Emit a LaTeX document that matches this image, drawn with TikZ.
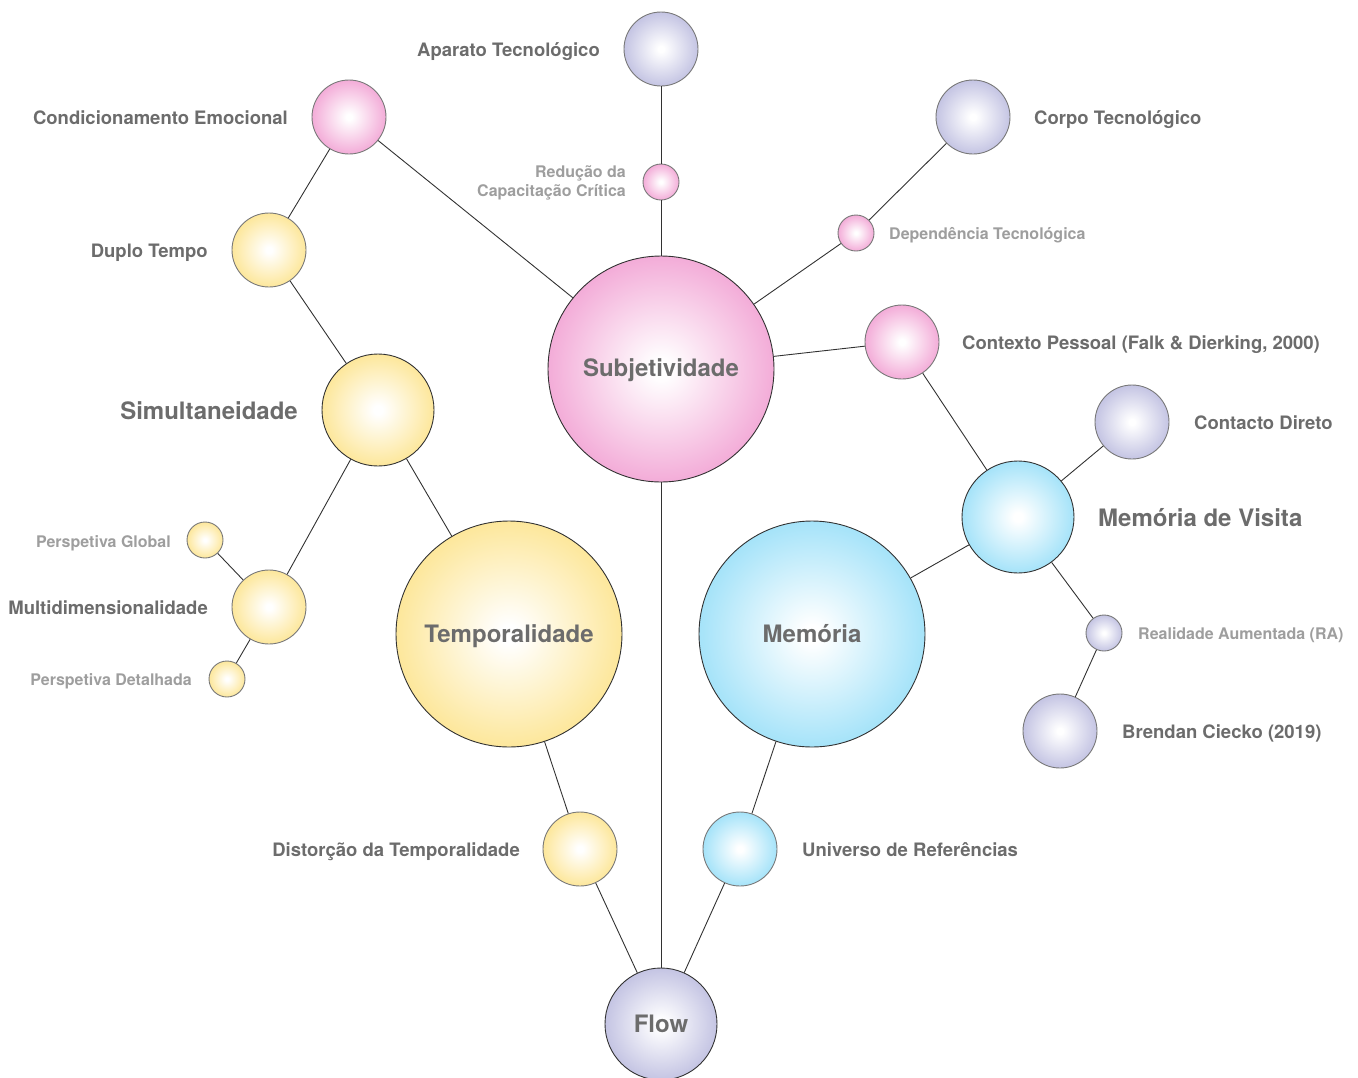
\documentclass[tikz,border=0pt]{standalone}
\usepackage{fontspec}
\setmainfont{TeX Gyre Heros}
\definecolor{pinkC}{RGB}{243,172,216}
\definecolor{yellowC}{RGB}{253,231,155}
\definecolor{cyanC}{RGB}{165,227,249}
\definecolor{lavC}{RGB}{196,196,227}
\definecolor{txtD}{RGB}{108,108,108}
\definecolor{txtL}{RGB}{158,158,158}
\definecolor{edgeD}{RGB}{50,50,50}
\definecolor{edgeG}{RGB}{120,120,120}
\pgfdeclareradialshading{ballpink}{\pgfpoint{0bp}{0bp}}{color(0bp)=(white); color(2bp)=(white); color(25bp)=(pinkC); color(50bp)=(pinkC)}
\pgfdeclareradialshading{ballyel}{\pgfpoint{0bp}{0bp}}{color(0bp)=(white); color(2bp)=(white); color(25bp)=(yellowC); color(50bp)=(yellowC)}
\pgfdeclareradialshading{ballcyan}{\pgfpoint{0bp}{0bp}}{color(0bp)=(white); color(2bp)=(white); color(25bp)=(cyanC); color(50bp)=(cyanC)}
\pgfdeclareradialshading{balllav}{\pgfpoint{0bp}{0bp}}{color(0bp)=(white); color(2bp)=(white); color(25bp)=(lavC); color(50bp)=(lavC)}
\tikzset{
  ball/.style={circle, inner sep=0pt, line width=0.9pt},
  bigball/.style={ball, draw=edgeD, minimum size=226pt},
  midball/.style={ball, draw=edgeD, minimum size=112pt},
  smlball/.style={ball, draw=edgeG, minimum size=74pt},
  tinyball/.style={ball, draw=edgeG, minimum size=36pt},
  pinkB/.style={shading=ballpink},
  yelB/.style={shading=ballyel},
  cyanB/.style={shading=ballcyan},
  lavB/.style={shading=balllav},
  bigtxt/.style={font=\fontsize{24}{28}\selectfont\bfseries, text=txtD},
  midtxt/.style={font=\fontsize{18.5}{22}\selectfont\bfseries, text=txtD, inner sep=0pt},
  smltxt/.style={font=\fontsize{16}{19}\selectfont\bfseries, text=txtL, inner sep=0pt, align=right},
  conn/.style={draw=edgeD, line width=0.9pt},
}
\begin{document}
\begin{tikzpicture}[x=1pt,y=-1pt]
\useasboundingbox (0,0) rectangle (1358,1077);
% circles
\node[bigball,pinkB] (subj) at (661,369) {};
\node[bigball,yelB] (temp) at (509,634) {};
\node[bigball,cyanB] (mem) at (812,634) {};
\node[midball,yelB] (simu) at (378,410) {};
\node[midball,cyanB] (memv) at (1018,517) {};
\node[midball,lavB] (flow) at (661,1024) {};
\node[smlball,lavB] (apar) at (661,49) {};
\node[smlball,pinkB] (cond) at (349,117) {};
\node[smlball,lavB] (corpo) at (973,117) {};
\node[smlball,yelB] (duplo) at (269,250) {};
\node[smlball,pinkB] (cont) at (902,342) {};
\node[smlball,lavB] (cdir) at (1132,422) {};
\node[smlball,yelB] (multi) at (269,607) {};
\node[smlball,lavB] (bren) at (1060,731) {};
\node[smlball,yelB] (dist) at (580,849) {};
\node[smlball,cyanB] (univ) at (740,849) {};
\node[tinyball,pinkB] (redu) at (661,182) {};
\node[tinyball,pinkB] (depe) at (856,233) {};
\node[tinyball,yelB] (pglob) at (205,540) {};
\node[tinyball,yelB] (pdet) at (227,679) {};
\node[tinyball,lavB] (real) at (1104,633) {};
% connectors
\draw[conn] (apar) -- (redu);
\draw[conn] (redu) -- (subj);
\draw[conn] (subj) -- (flow);
\draw[conn] (cond) -- (subj);
\draw[conn] (cond) -- (duplo);
\draw[conn] (duplo) -- (simu);
\draw[conn] (simu) -- (temp);
\draw[conn] (simu) -- (multi);
\draw[conn] (multi) -- (pglob);
\draw[conn] (multi) -- (pdet);
\draw[conn] (corpo) -- (depe);
\draw[conn] (depe) -- (subj);
\draw[conn] (subj) -- (cont);
\draw[conn] (cont) -- (memv);
\draw[conn] (memv) -- (cdir);
\draw[conn] (memv) -- (mem);
\draw[conn] (memv) -- (real);
\draw[conn] (real) -- (bren);
\draw[conn] (temp) -- (dist);
\draw[conn] (dist) -- (flow);
\draw[conn] (mem) -- (univ);
\draw[conn] (univ) -- (flow);
% inner labels
\node[bigtxt, inner sep=0pt, anchor=base] (tsubj) at (661,376) {Subjetividade};
\node[bigtxt, inner sep=0pt, anchor=base] (ttemp) at (509,642) {Temporalidade};
\node[bigtxt, inner sep=0pt, anchor=base] (tmem) at (812,642) {Memória};
\node[bigtxt, inner sep=0pt, anchor=base] (tflow) at (661,1032) {Flow};
% outer labels
\node[midtxt, anchor=base east] (tapar) at (600,56) {Aparato Tecnológico};
\node[midtxt, anchor=base east] (tcond) at (288,124) {Condicionamento Emocional};
\node[midtxt, anchor=base west] (tcorpo) at (1034,124) {Corpo Tecnológico};
\node[smltxt, anchor=east] (tredu) at (626,183) {Redução da\\Capacitação Crítica};
\node[smltxt, anchor=base west] (tdepe) at (889,239) {Dependência Tecnológica};
\node[midtxt, anchor=base east] (tduplo) at (208,257) {Duplo Tempo};
\node[midtxt, anchor=base west] (tcont) at (962,349) {Contexto Pessoal (Falk \& Dierking, 2000)};
\node[bigtxt, inner sep=0pt, anchor=base east] (tsimu) at (298,419) {Simultaneidade};
\node[midtxt, anchor=base west] (tcdir) at (1194,429) {Contacto Direto};
\node[bigtxt, inner sep=0pt, anchor=base west] (tmemv) at (1098,526) {Memória de Visita};
\node[smltxt, anchor=base east] (tpglob) at (171,547) {Perspetiva Global};
\node[midtxt, anchor=base east] (tmulti) at (208,614) {Multidimensionalidade};
\node[smltxt, anchor=base east] (tpdet) at (192,685) {Perspetiva Detalhada};
\node[smltxt, anchor=base west] (treal) at (1138,639) {Realidade Aumentada (RA)};
\node[midtxt, anchor=base west] (tbren) at (1122,738) {Brendan Ciecko (2019)};
\node[midtxt, anchor=base east] (tdist) at (520,856) {Distorção da Temporalidade};
\node[midtxt, anchor=base west] (tuniv) at (802,856) {Universo de Referências};
\end{tikzpicture}
\end{document}
